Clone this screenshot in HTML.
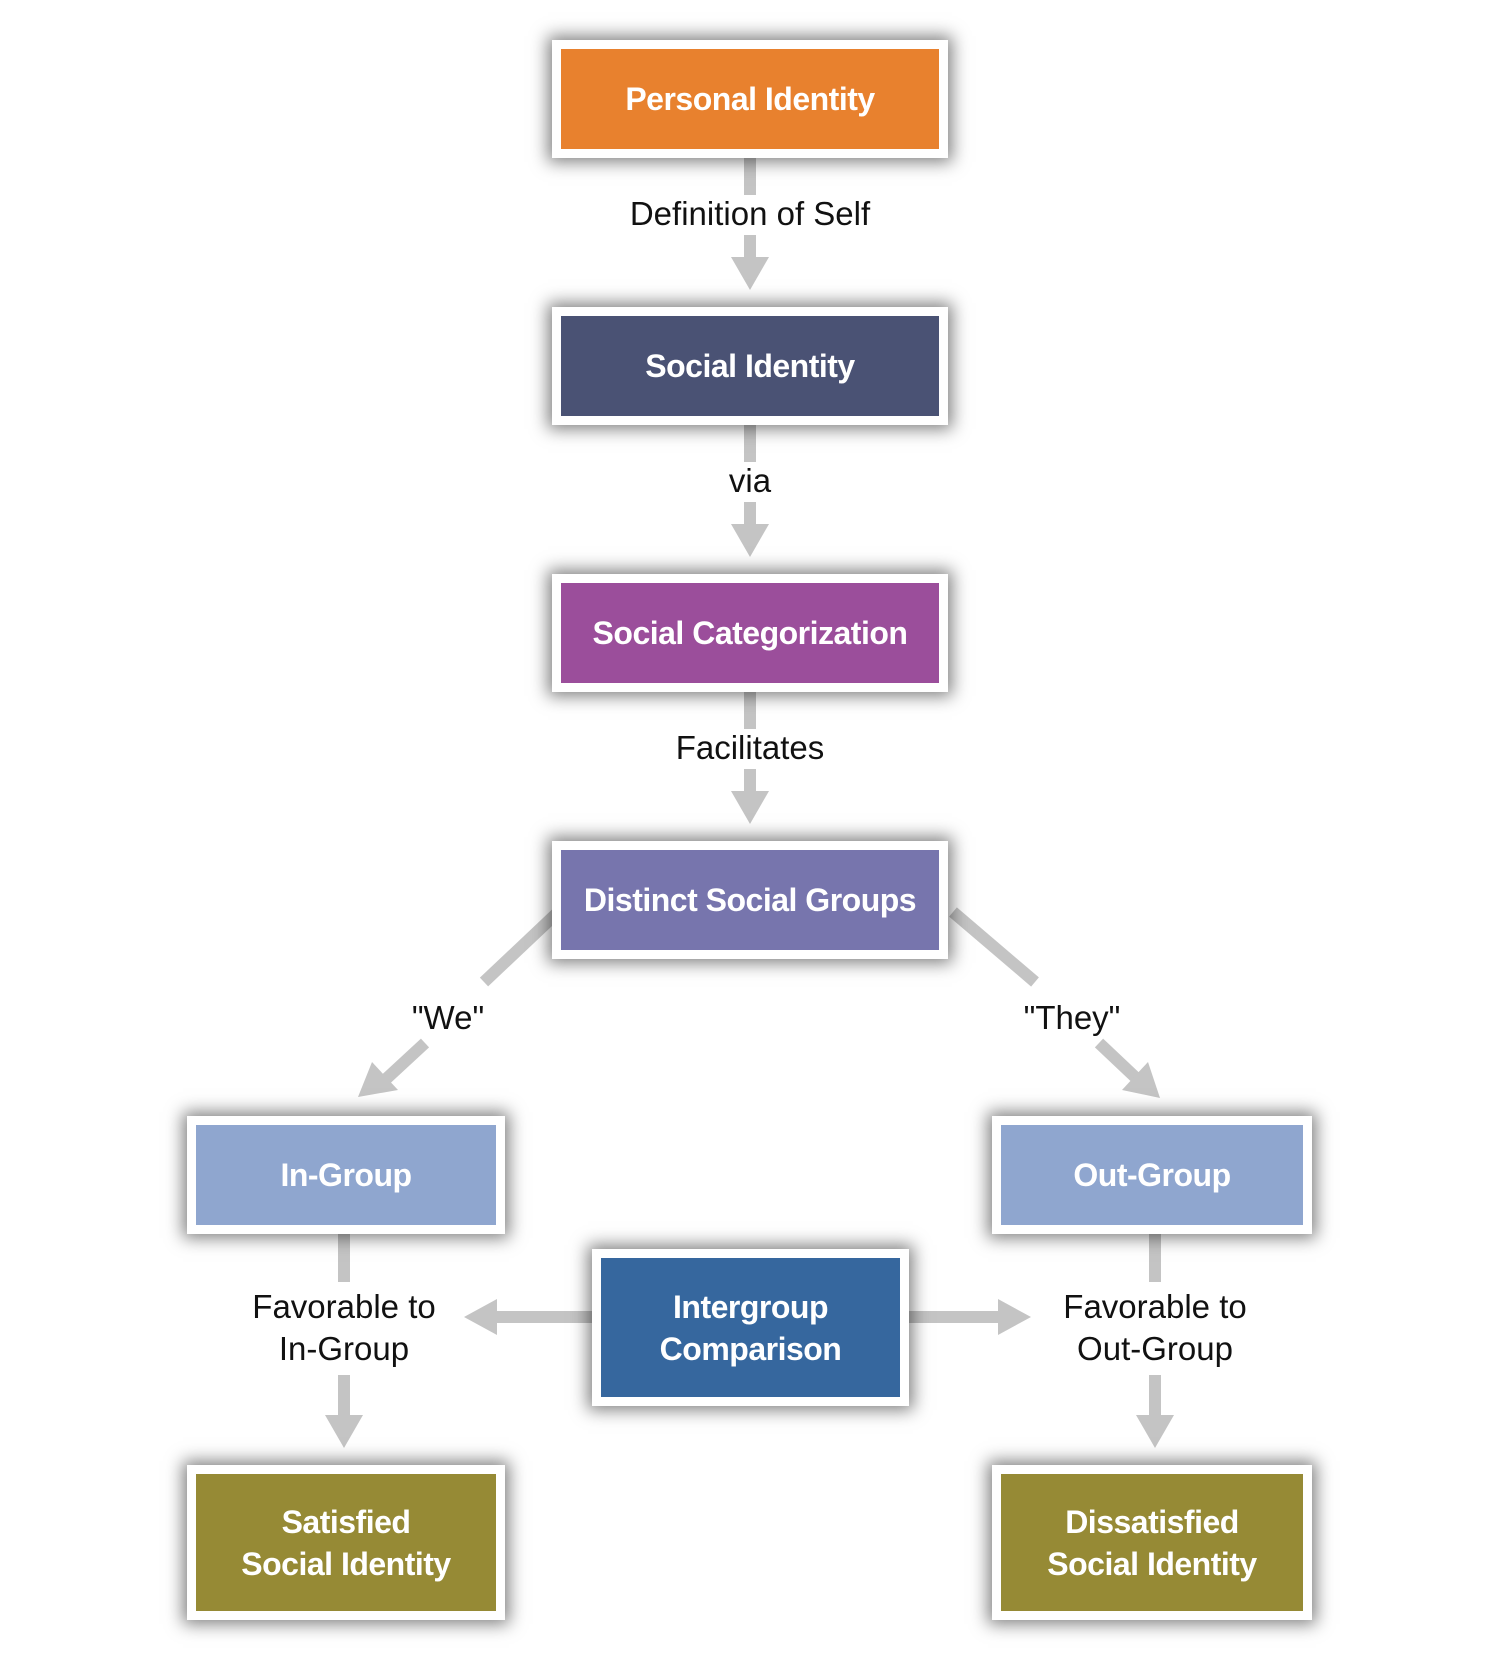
<!DOCTYPE html>
<html><head><meta charset="utf-8"><style>
html,body{margin:0;padding:0;background:#fff;}
body{width:1500px;height:1663px;position:relative;overflow:hidden;font-family:"Liberation Sans",sans-serif;}
.b{position:absolute;background:#fff;box-shadow:0 0 16px 4px rgba(0,0,0,.5);box-sizing:border-box;padding:9px;}
.b div{width:100%;height:100%;display:flex;align-items:center;justify-content:center;text-align:center;color:#fff;font-weight:bold;font-size:32px;line-height:42px;letter-spacing:-0.5px;}
.l{position:absolute;font-size:33px;color:#111;text-align:center;line-height:42px;transform:translate(-50%,-50%);white-space:nowrap;}
svg{position:absolute;left:0;top:0;}
</style></head><body>
<svg width="1500" height="1663">
<g fill="#c4c4c4" stroke="none">
<rect x="744" y="158" width="12" height="37"/><rect x="744" y="235" width="12" height="25"/><polygon points="731,257 769,257 750,290"/>
<rect x="744" y="425" width="12" height="37"/><rect x="744" y="502" width="12" height="25"/><polygon points="731,524 769,524 750,557"/>
<rect x="744" y="692" width="12" height="37"/><rect x="744" y="769" width="12" height="25"/><polygon points="731,791 769,791 750,824"/>
<rect x="338" y="1234" width="12" height="48"/><rect x="338" y="1375" width="12" height="42"/><polygon points="325,1415 363,1415 344,1448"/>
<rect x="1149" y="1234" width="12" height="48"/><rect x="1149" y="1375" width="12" height="42"/><polygon points="1136,1415 1174,1415 1155,1448"/>
<rect x="494" y="1311" width="100" height="12"/><polygon points="497,1299 497,1335 464,1317"/>
<rect x="906" y="1311" width="96" height="12"/><polygon points="998,1299 998,1335 1031,1317"/>
</g>
<g stroke="#c4c4c4" stroke-width="12" fill="none">
<line x1="556" y1="914" x2="484" y2="982"/>
<line x1="425" y1="1043" x2="385" y2="1080"/>
<line x1="953" y1="912" x2="1035" y2="982"/>
<line x1="1099" y1="1043" x2="1135" y2="1077"/>
</g>
<g fill="#c4c4c4">
<polygon points="358,1097 372,1062 398,1090"/>
<polygon points="1160,1098 1122,1090 1148,1062"/>
</g>
</svg>
<div class="b" style="left:552px;top:40px;width:396px;height:118px"><div style="background:#e8812e">Personal Identity</div></div>
<div class="b" style="left:552px;top:307px;width:396px;height:118px"><div style="background:#4a5274">Social Identity</div></div>
<div class="b" style="left:552px;top:574px;width:396px;height:118px"><div style="background:#9b4e9b">Social Categorization</div></div>
<div class="b" style="left:552px;top:841px;width:396px;height:118px"><div style="background:#7775ad">Distinct Social Groups</div></div>
<div class="b" style="left:187px;top:1116px;width:318px;height:118px"><div style="background:#8fa6cf">In-Group</div></div>
<div class="b" style="left:992px;top:1116px;width:320px;height:118px"><div style="background:#8fa6cf">Out-Group</div></div>
<div class="b" style="left:592px;top:1249px;width:317px;height:157px"><div style="background:#36679e">Intergroup<br>Comparison</div></div>
<div class="b" style="left:187px;top:1465px;width:318px;height:155px"><div style="background:#968a35">Satisfied<br>Social Identity</div></div>
<div class="b" style="left:992px;top:1465px;width:320px;height:155px"><div style="background:#968a35">Dissatisfied<br>Social Identity</div></div>
<div class="l" style="left:750px;top:214px">Definition of Self</div>
<div class="l" style="left:750px;top:481px">via</div>
<div class="l" style="left:750px;top:748px">Facilitates</div>
<div class="l" style="left:448px;top:1018px">"We"</div>
<div class="l" style="left:1072px;top:1018px">"They"</div>
<div class="l" style="left:344px;top:1328px">Favorable to<br>In-Group</div>
<div class="l" style="left:1155px;top:1328px">Favorable to<br>Out-Group</div>
</body></html>
